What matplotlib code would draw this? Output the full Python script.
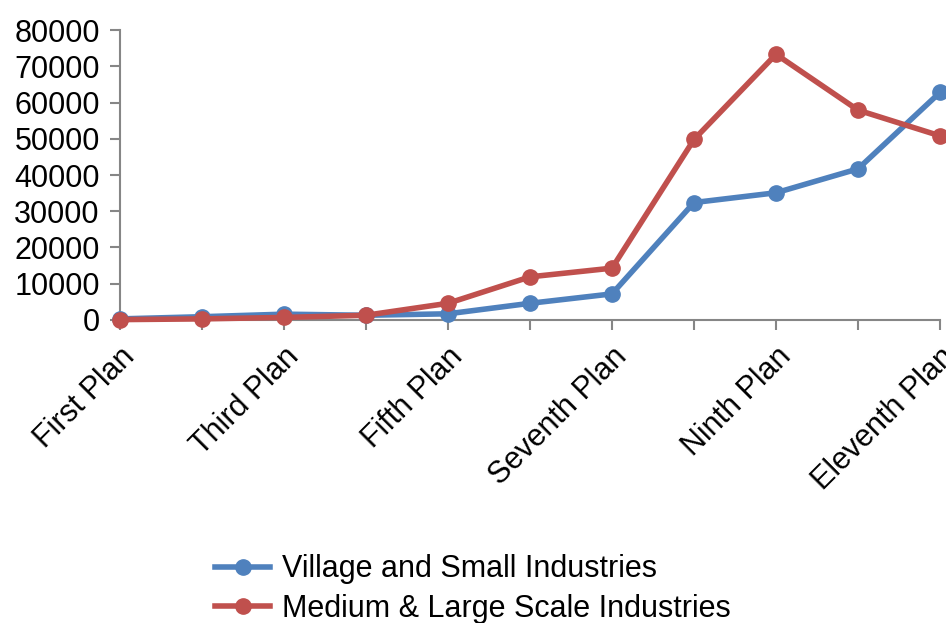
import matplotlib
matplotlib.use("Agg")
import matplotlib.pyplot as plt

# Plans (only every other label is shown on the axis)
plans = ["First Plan", "Second Plan", "Third Plan", "Fourth Plan", "Fifth Plan",
         "Sixth Plan", "Seventh Plan", "Eighth Plan", "Ninth Plan", "Tenth Plan",
         "Eleventh Plan"]
village_small = [300, 900, 1600, 1300, 1700, 4600, 7200, 32400, 35100, 41700, 62800]
medium_large = [100, 300, 700, 1300, 4600, 11900, 14300, 49800, 73300, 57900, 50800]
y_ticks = [0, 10000, 20000, 30000, 40000, 50000, 60000, 70000, 80000]

plt.rcParams['font.family'] = ['Liberation Sans', 'DejaVu Sans']

fig = plt.figure(figsize=(9.46, 6.23), dpi=100)
ax = fig.add_axes([0.1268, 0.4864, 0.8669, 0.4654])

x = list(range(len(plans)))
ax.plot(x, village_small, color='#4F81BD', lw=4, marker='o', markersize=11,
        label='Village and Small Industries', clip_on=False, zorder=3)
ax.plot(x, medium_large, color='#C0504D', lw=4, marker='o', markersize=11,
        label='Medium & Large Scale Industries', clip_on=False, zorder=4)

ax.set_xlim(0, len(plans) - 1)
ax.set_ylim(0, 80000)
ax.set_yticks(y_ticks)
ax.set_yticklabels([str(v) for v in y_ticks], fontsize=22)
ax.set_xticks(x)
ax.set_xticklabels([p if i % 2 == 0 else '' for i, p in enumerate(plans)],
                   fontsize=22, rotation=45, ha='right', va='top',
                   rotation_mode='anchor')

for s in ['top', 'right']:
    ax.spines[s].set_visible(False)
for s in ['left', 'bottom']:
    ax.spines[s].set_color('#868686')
    ax.spines[s].set_linewidth(1.5)
ax.tick_params(axis='both', direction='out', length=7.5, width=1.5, color='#868686')
ax.tick_params(axis='y', pad=7)
ax.tick_params(axis='x', pad=8)

fig.legend(loc='lower center', bbox_to_anchor=(0.5, -0.045), ncol=1, frameon=False,
           fontsize=22, handlelength=1.8, handletextpad=0.4, labelspacing=0.3)

fig.savefig("out.png", dpi=100)
